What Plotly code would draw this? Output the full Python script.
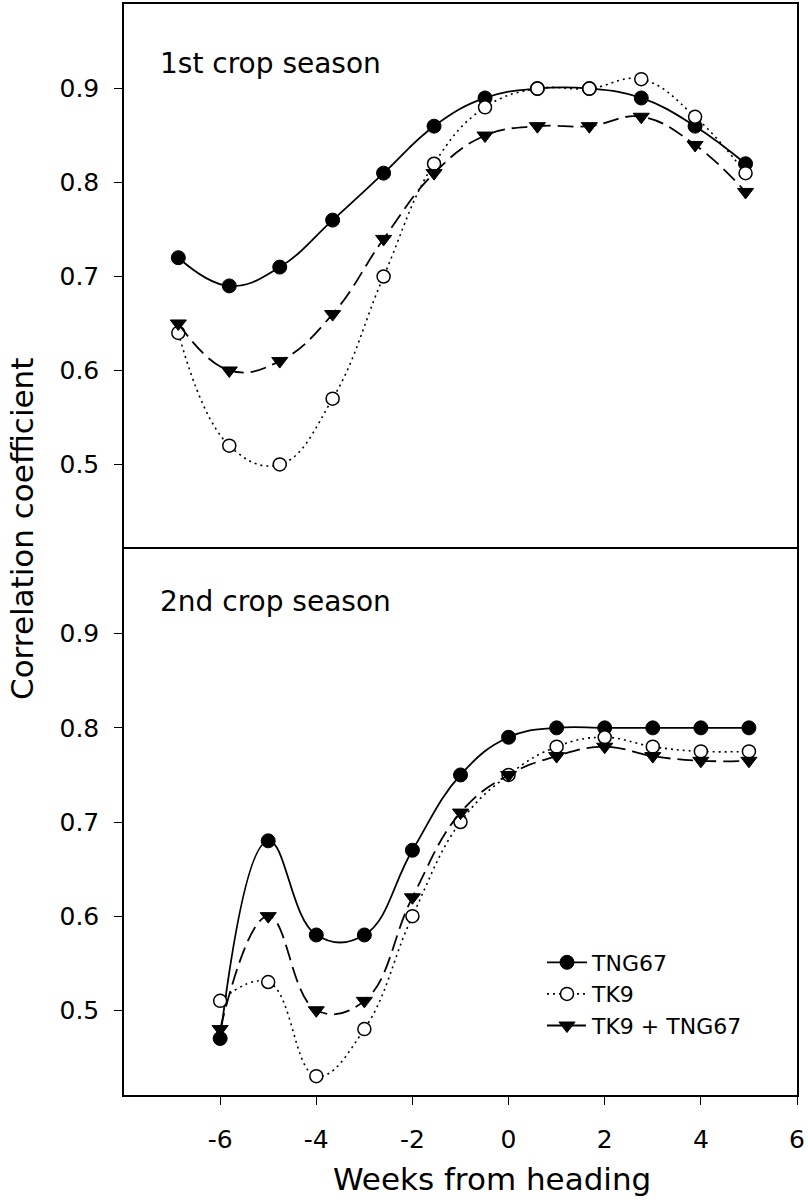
import plotly.graph_objects as go

# ---- data ----
weeks_s1 = [-6.87, -5.81, -4.76, -3.66, -2.60, -1.55, -0.49, 0.60, 1.68, 2.76, 3.88, 4.93]
tng67_s1 = [0.72, 0.69, 0.71, 0.76, 0.81, 0.86, 0.89, 0.90, 0.90, 0.89, 0.86, 0.82]
tk9_s1 = [0.64, 0.52, 0.50, 0.57, 0.70, 0.82, 0.88, 0.90, 0.90, 0.91, 0.87, 0.81]
mix_s1 = [0.65, 0.60, 0.61, 0.66, 0.74, 0.81, 0.85, 0.86, 0.86, 0.87, 0.84, 0.79]

weeks_s2 = [-6, -5, -4, -3, -2, -1, 0, 1, 2, 3, 4, 5]
tng67_s2 = [0.47, 0.68, 0.58, 0.58, 0.67, 0.75, 0.79, 0.80, 0.80, 0.80, 0.80, 0.80]
tk9_s2 = [0.51, 0.53, 0.43, 0.48, 0.60, 0.70, 0.75, 0.78, 0.79, 0.78, 0.775, 0.775]
mix_s2 = [0.48, 0.60, 0.50, 0.51, 0.62, 0.71, 0.75, 0.77, 0.78, 0.77, 0.765, 0.765]

series_names = ["TNG67", "TK9", "TK9 + TNG67"]
x_ticks = [-6, -4, -2, 0, 2, 4, 6]
x_tick_labels = ["-6", "-4", "-2", "0", "2", "4", "6"]
y_ticks = [0.5, 0.6, 0.7, 0.8, 0.9]
y_tick_labels = ["0.5", "0.6", "0.7", "0.8", "0.9"]
panel_titles = ["1st crop season", "2nd crop season"]

FONT = "DejaVu Sans"

styles = [
    dict(line=dict(color="black", width=1.8, dash="solid", shape="spline", smoothing=1.2),
         marker=dict(symbol="circle", size=14, color="black", line=dict(color="black", width=1))),
    dict(line=dict(color="black", width=1.6, dash="2px,4px", shape="spline", smoothing=1.2),
         marker=dict(symbol="circle", size=13, color="white", line=dict(color="black", width=1.5))),
    dict(line=dict(color="black", width=1.8, dash="16px,7px", shape="spline", smoothing=1.2),
         marker=dict(symbol="triangle-down", size=14, color="black", line=dict(color="black", width=1))),
]

fig = go.Figure()

s1 = [tng67_s1, tk9_s1, mix_s1]
s2 = [tng67_s2, tk9_s2, mix_s2]

for i, ys in enumerate(s1):
    fig.add_trace(go.Scatter(x=weeks_s1, y=ys, mode="lines+markers", name=series_names[i],
                             showlegend=False, xaxis="x", yaxis="y", **styles[i]))
for i, ys in enumerate(s2):
    fig.add_trace(go.Scatter(x=weeks_s2, y=ys, mode="lines+markers", name=series_names[i],
                             showlegend=True, xaxis="x2", yaxis="y2", **styles[i]))

W, H = 808, 1204
ml, mr, mt, mb = 124, 11, 4, 109
plot_h = H - mt - mb
split = (1095 - 549) / plot_h

line_common = dict(showline=True, linecolor="black", linewidth=1.5, showgrid=False, zeroline=False)
ytick_common = dict(ticks="outside", ticklen=8, tickwidth=1.2, tickcolor="black",
                    tickvals=y_ticks, ticktext=y_tick_labels,
                    tickfont=dict(size=25, family=FONT, color="black"), ticklabelstandoff=10)

fig.update_layout(
    width=W, height=H,
    margin=dict(l=ml, r=mr, t=mt, b=mb),
    plot_bgcolor="white", paper_bgcolor="white",
    font=dict(family=FONT, color="black"),
    xaxis=dict(range=[-8, 6], domain=[0, 1], anchor="y", side="top", mirror=False,
               ticks="", showticklabels=False, tickvals=x_ticks, **line_common),
    yaxis=dict(range=[0.41, 0.99], domain=[split, 1], anchor="x", mirror=True,
               **ytick_common, **line_common),
    xaxis2=dict(range=[-8, 6], domain=[0, 1], anchor="y2", mirror=True, ticks="outside", ticklen=8,
                tickwidth=1.2, tickcolor="black", tickvals=x_ticks, ticktext=x_tick_labels,
                tickfont=dict(size=25, family=FONT, color="black"), ticklabelstandoff=13,
                **line_common),
    yaxis2=dict(range=[0.41, 0.99], domain=[0, split], anchor="x2", mirror=True,
                **ytick_common, **line_common),
    legend=dict(x=(542 - ml) / (W - ml - mr), y=(1095 - 994) / plot_h, xanchor="left", yanchor="middle",
                font=dict(size=22, family=FONT, color="black"), bgcolor="rgba(0,0,0,0)",
                itemwidth=40, tracegroupgap=0),
    showlegend=True,
)

def px_x(px):
    return (px - ml) / (W - ml - mr)

def px_y(py):
    return (H - mb - py) / plot_h

annotations = [
    dict(text=panel_titles[0], x=px_x(158), y=px_y(63), xref="paper", yref="paper",
         xanchor="left", yanchor="middle", showarrow=False, font=dict(size=28, family=FONT, color="black")),
    dict(text=panel_titles[1], x=px_x(158), y=px_y(601), xref="paper", yref="paper",
         xanchor="left", yanchor="middle", showarrow=False, font=dict(size=28, family=FONT, color="black")),
    dict(text="Weeks from heading", x=px_x(492), y=px_y(1179), xref="paper", yref="paper",
         xanchor="center", yanchor="middle", showarrow=False, font=dict(size=31, family=FONT, color="black")),
    dict(text="Correlation coefficient", x=px_x(22), y=px_y(529), xref="paper", yref="paper",
         xanchor="center", yanchor="middle", textangle=-90, showarrow=False,
         font=dict(size=31, family=FONT, color="black")),
]
fig.update_layout(annotations=annotations)

fig.write_html("out.html")
